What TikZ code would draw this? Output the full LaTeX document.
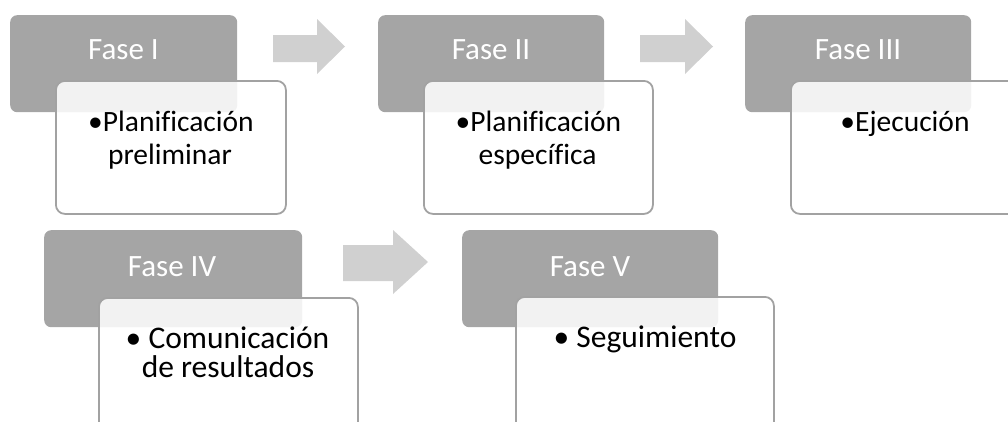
\documentclass[tikz,border=0pt]{standalone}
\usepackage{fontspec}
\setmainfont{Carlito}[Ligatures=NoCommon]
\definecolor{phasegray}{HTML}{A5A5A5}
\definecolor{arrowgray}{HTML}{D0D0D0}
\definecolor{edgegray}{HTML}{A2A2A2}
\tikzset{
  graybox/.style={rectangle, rounded corners=7pt, fill=phasegray, draw=none, inner sep=0pt, anchor=north west},
  whitebox/.style={rectangle, rounded corners=9pt, fill=white, fill opacity=0.86, draw=edgegray, line width=1.8pt, inner sep=0pt, anchor=north west},
  phaselabel/.style={anchor=base, text=white, inner sep=0pt, font=\fontsize{31}{36}\selectfont},
  bodyA/.style={anchor=base, text=black, inner sep=0pt, font=\fontsize{29.5}{34}\selectfont},
  bodyB/.style={anchor=base, text=black, inner sep=0pt, font=\fontsize{31.5}{36}\selectfont},
  blockarrow/.style={fill=arrowgray, draw=none}
}
\begin{document}
\begin{tikzpicture}[x=1pt,y=-1pt]
\useasboundingbox (0,0) rectangle (1008,421);
\clip (0,0) rectangle (1008,421);
% arrows
\fill[blockarrow] (273,35) -- (317,35) -- (317,19) -- (345,46.5) -- (317,74) -- (317,62) -- (273,62) -- cycle;
\fill[blockarrow] (640,35) -- (685,35) -- (685,19) -- (713,46.5) -- (685,74) -- (685,62) -- (640,62) -- cycle;
\fill[blockarrow] (343,245) -- (393,245) -- (393,230) -- (428,262) -- (393,294) -- (393,281) -- (343,281) -- cycle;
% gray phase boxes
\node[graybox, minimum width=227pt, minimum height=97pt] (g1) at (10,15) {};
\node[graybox, minimum width=226pt, minimum height=97pt] (g2) at (378,15) {};
\node[graybox, minimum width=226pt, minimum height=97pt] (g3) at (745,15) {};
\node[graybox, minimum width=258pt, minimum height=97pt] (g4) at (44,230) {};
\node[graybox, minimum width=256pt, minimum height=97pt] (g5) at (462,230) {};
% white content boxes
\node[whitebox, minimum width=230pt, minimum height=133pt] (w1) at (55,80) {};
\node[whitebox, minimum width=229pt, minimum height=133pt] (w2) at (423,80) {};
\node[whitebox, minimum width=230pt, minimum height=133pt] (w3) at (790,80) {};
\node[whitebox, minimum width=259pt, minimum height=150pt] (w4) at (98,297) {};
\node[whitebox, minimum width=258pt, minimum height=150pt] (w5) at (515,296) {};
% phase labels
\node[phaselabel] (f1) at (123.5,59) {Fase I};
\node[phaselabel] (f2) at (491,59) {Fase II};
\node[phaselabel] (f3) at (858,59) {Fase III};
\node[phaselabel] (f4) at (172,276) {Fase IV};
\node[phaselabel] (f5) at (590,276) {Fase V};
% body texts
\node[bodyA] (b1a) at (171,131) {•Planificación};
\node[bodyA] (b1b) at (170,164) {preliminar};
\node[bodyA] (b2a) at (538.5,131) {•Planificación};
\node[bodyA] (b2b) at (537.5,164) {específica};
\node[bodyA] (b3a) at (905,131) {•Ejecución};
\node[bodyB] (b4a) at (227.5,348) {• Comunicación};
\node[bodyB] (b4b) at (228,377) {de resultados};
\node[bodyB] (b5a) at (645,347) {• Seguimiento};
\end{tikzpicture}
\end{document}
